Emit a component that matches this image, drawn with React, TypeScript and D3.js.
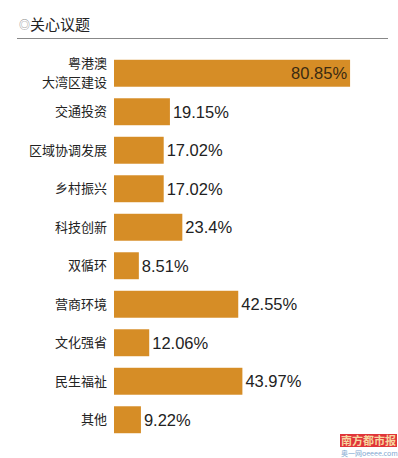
import React, { useEffect, useRef } from 'react'
import * as d3 from 'd3'

const categories = [
  ['粤港澳', '大湾区建设'],
  ['交通投资'],
  ['区域协调发展'],
  ['乡村振兴'],
  ['科技创新'],
  ['双循环'],
  ['营商环境'],
  ['文化强省'],
  ['民生福祉'],
  ['其他'],
]
const values = [80.85, 19.15, 17.02, 17.02, 23.4, 8.51, 42.55, 12.06, 43.97, 9.22]
const valueLabels = ['80.85%', '19.15%', '17.02%', '17.02%', '23.4%', '8.51%', '42.55%', '12.06%', '43.97%', '9.22%']

const FONT = '"Noto Sans CJK SC", "Noto Sans", sans-serif'

const App = () => {
  const ref = useRef<SVGSVGElement>(null)

  useEffect(() => {
    const svg = d3.select(ref.current)
    svg.selectAll('*').remove()

    const left = 114
    const x = d3.scaleLinear().domain([0, 100]).range([0, 292])
    const y = d3
      .scaleBand<number>()
      .domain(d3.range(values.length))
      .range([54, 439])
      .paddingInner(0.3)
      .paddingOuter(0.15)

    // title
    const title = svg
      .append('text')
      .attr('x', 19)
      .attr('y', 30)
      .attr('font-family', FONT)
      .attr('font-size', 15)
      .attr('fill', '#222')
    title.append('tspan').attr('font-size', 11).attr('fill', '#888').attr('dy', -1).text('◎')
    title.append('tspan').attr('dy', 1).text('关心议题')
    svg
      .append('line')
      .attr('x1', 17)
      .attr('x2', 388)
      .attr('y1', 38.5)
      .attr('y2', 38.5)
      .attr('stroke', '#888')
      .attr('stroke-width', 1.2)

    const g = svg.append('g')

    g.selectAll('rect')
      .data(values)
      .enter()
      .append('rect')
      .attr('x', left)
      .attr('y', (_, i) => y(i)!)
      .attr('width', (d) => x(d))
      .attr('height', y.bandwidth())
      .attr('fill', '#D68D26')

    // category labels
    categories.forEach((lines, i) => {
      const cy = y(i)! + y.bandwidth() / 2
      const t = g
        .append('text')
        .attr('x', 107)
        .attr('text-anchor', 'end')
        .attr('font-family', FONT)
        .attr('font-size', 13)
        .attr('fill', '#222')
      lines.forEach((l, j) => {
        t.append('tspan')
          .attr('x', 107)
          .attr('y', cy + 4.5 + (j - (lines.length - 1) / 2) * 19)
          .text(l)
      })
    })

    // value labels
    g.selectAll('text.val')
      .data(values)
      .enter()
      .append('text')
      .attr('class', 'val')
      .attr('x', (d, i) => (i === 0 ? left + x(d) - 3 : left + x(d) + 3))
      .attr('y', (_, i) => y(i)! + y.bandwidth() / 2 + 6)
      .attr('text-anchor', (_, i) => (i === 0 ? 'end' : 'start'))
      .attr('font-family', '"Liberation Sans", Arial, sans-serif')
      .attr('font-size', 16.5)
      .attr('fill', (_, i) => (i === 0 ? '#3a2a12' : '#222'))
      .text((_, i) => valueLabels[i])

    // watermark
    svg.append('rect').attr('x', 340).attr('y', 434).attr('width', 57).attr('height', 13).attr('fill', '#e0353a')
    svg
      .append('text')
      .attr('x', 368.5)
      .attr('y', 445)
      .attr('text-anchor', 'middle')
      .attr('font-family', FONT)
      .attr('font-size', 11)
      .attr('font-weight', 'bold')
      .attr('fill', '#f7d7a0')
      .text('南方都市报')
    svg
      .append('text')
      .attr('x', 341)
      .attr('y', 456)
      .attr('font-family', FONT)
      .attr('font-size', 7)
      .attr('fill', '#7fa8d0')
      .text('奥一网oeeee.com')
  }, [])

  return (
    <svg
      ref={ref}
      width={398}
      height={458}
      style={{ position: 'absolute', left: 0, top: 0, background: '#fff' }}
    />
  )
}

export default App
